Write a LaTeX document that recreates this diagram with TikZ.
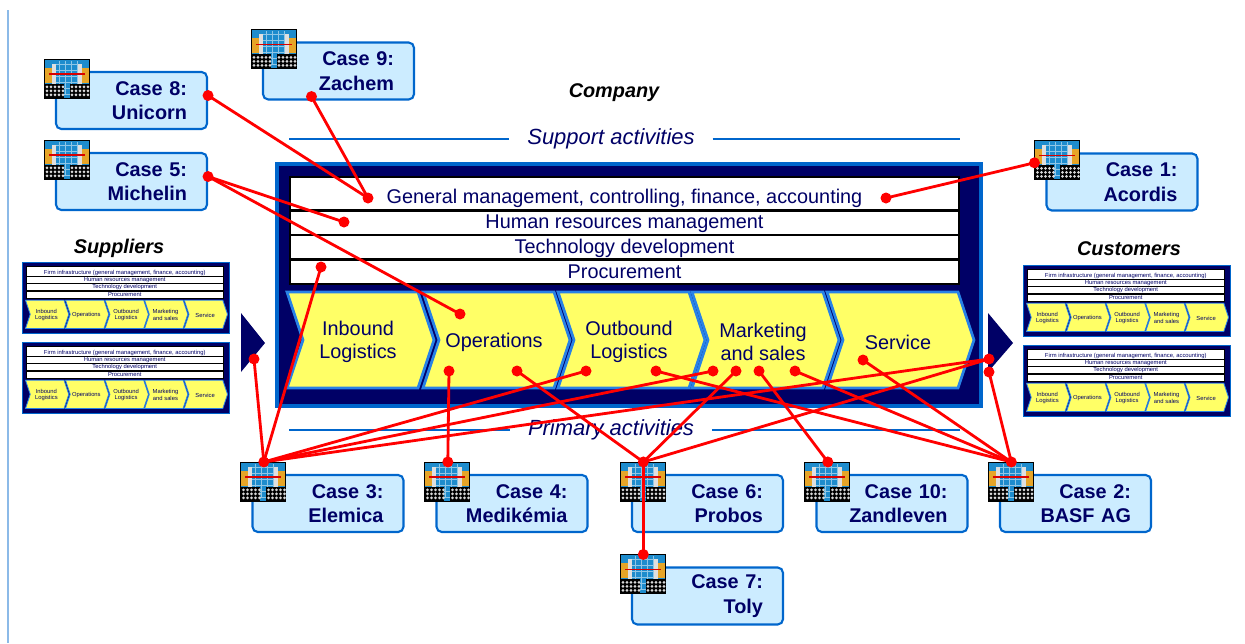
\documentclass[tikz,border=0pt]{standalone}
\usepackage{fontspec}
\setmainfont{Liberation Sans}
\usetikzlibrary{positioning,calc}

\definecolor{vcnavy}{RGB}{0,0,102}
\definecolor{vcblue}{RGB}{0,102,204}
\definecolor{chevblue}{RGB}{40,130,230}
\definecolor{chevyellow}{RGB}{255,255,102}
\definecolor{casefill}{RGB}{204,236,255}
\definecolor{iconblue}{RGB}{30,140,205}
\definecolor{iconorange}{RGB}{230,165,40}

\tikzset{%
	rowbox/.style   = {draw=black, fill=white},
	vctext/.style   = {text=vcnavy, inner sep=0, align=center,
		font=\fontsize{11.3}{13}\selectfont},
	chev/.style     = {draw=chevblue, fill=chevyellow, line join=miter},
	casebox/.style  = {draw=vcblue, fill=casefill, rounded corners=3pt,
		line width=1.2pt, text=vcnavy, align=right, text width=2.22cm,
		inner xsep=0.4cm, minimum height=1.14cm,
		font=\fontsize{11.3}{14}\selectfont\bfseries},
	icon/.style     = {inner sep=0, minimum width=0.92cm, minimum height=0.8cm},
	heading/.style  = {font=\fontsize{11.3}{14}\selectfont\bfseries\itshape},
	activity/.style = {text=vcnavy, inner xsep=10pt,
		font=\fontsize{12.5}{15}\selectfont\itshape},
	sepline/.style  = {draw=vcblue, line width=0.9pt},
	link/.style     = {draw=red, line width=1.6pt}
}

% value chain: #1 shift, #2 scale, #3 name prefix, #4 top support row
\newcommand{\valuechain}[4]{%
	\begin{scope}[shift={#1}, scale=#2, transform shape, name prefix=#3]
		\filldraw[draw=vcblue, fill=vcnavy, line width=#2*2.4pt] (2,2) rectangle (706,244);
		\foreach \ya/\yb in {15/48, 49/73, 73/97, 98/122}
			\draw[rowbox, line width=#2*1pt] (15,\ya) rectangle (684,\yb);
		\node[vctext, anchor=base] (gm) at (349.5,41) {#4};
		\node[vctext, anchor=base] (hr) at (349.5,66) {Human resources management};
		\node[vctext, anchor=base] (tech) at (349.5,91) {Technology development};
		\node[vctext, anchor=base] (proc) at (349.5,116) {Procurement};
		\foreach \x/\name/\txt in {12/inb/{Inbound\\Logistics}, 148/ops/Operations,
			283/outb/{Outbound\\Logistics}, 417/mkt/{Marketing\\and sales}, 552/serv/Service} {
			\draw[chev, line width=#2*1.6pt] (\x,130) -- ++(131,0) -- ++(16,48) -- ++(-16,48)
				-- ++(-131,0) -- ++(16,-48) -- cycle;
			\node[vctext] (\name) at (\x+71,180) {\txt};
		}
	\end{scope}}

% small picture in the corner of a case box
\newcommand{\caseicon}[1]{%
	\begin{scope}[shift={(#1.north west)}]
		\fill[black] (0,0) rectangle (46,40);
		\fill[iconblue] (1,1) rectangle (45,39);
		\foreach \gx in {15,21,...,33}
			\draw[white!50!iconblue, line width=0.4pt] (\gx,2) -- (\gx,36);
		\foreach \gy in {5,11,...,35}
			\draw[white!50!iconblue, line width=0.4pt] (11,\gy) -- (35,\gy);
		\fill[iconorange] (1,9) rectangle (10,24);
		\fill[iconorange] (36,9) rectangle (45,24);
		\fill[gray!25] (8,5) rectangle (12,26);
		\fill[gray!25] (34,5) rectangle (38,26);
		\draw[red!85!black, line width=0.7pt] (5,15) -- (41,15);
		\fill[black] (1,25) rectangle (20,39);
		\fill[black] (26,25) rectangle (45,39);
		\foreach \sx in {3,7,...,19} \foreach \sy in {28,32,36}
			\fill[gray!30] (\sx,\sy) circle (1.5);
		\foreach \sx in {28,32,...,44} \foreach \sy in {28,32,36}
			\fill[gray!30] (\sx,\sy) circle (1.5);
	\end{scope}}

\begin{document}
\begin{tikzpicture}[x=0.02cm, y=-0.02cm]
	\useasboundingbox (0,0) rectangle (1245,643);
	\draw[vcblue!45, line width=0.8pt] (8,10) -- (8,643);

	% headings
	\node[heading] (company) at (614,93) {Company};
	\node[heading] (suppliers) at (119,248) {Suppliers};
	\node[heading] (customers) at (1129,249) {Customers};
	\node[activity] (support) at (611,139) {Support activities};
	\node[activity] (primary) at (611,430) {Primary activities};
	\draw[sepline] (289,139) -- (support.west);
	\draw[sepline] (support.east) -- (960,139);
	\draw[sepline] (289,430) -- (primary.west);
	\draw[sepline] (primary.east) -- (960,430);

	% company with suppliers and customers
	\valuechain{(275,162)}{1}{}{General management, controlling, finance, accounting}
	\valuechain{(22,262)}{0.294}{sup1-}{Firm infrastructure (general management, finance, accounting)}
	\valuechain{(22,342)}{0.294}{sup2-}{Firm infrastructure (general management, finance, accounting)}
	\valuechain{(1023,265)}{0.294}{cus1-}{Firm infrastructure (general management, finance, accounting)}
	\valuechain{(1023,345)}{0.294}{cus2-}{Firm infrastructure (general management, finance, accounting)}
	\fill[vcnavy] (241,313) -- (265,343) -- (241,372) -- cycle;
	\fill[vcnavy] (988,313) -- (1013,343) -- (988,372) -- cycle;

	% cases
	\node[casebox] (c1) at (1122,182) {Case 1:\\Acordis};
	\node[casebox] (c2) at (1075.5,503.5) {Case 2:\\BASF AG};
	\node[casebox] (c3) at (328,503.5) {Case 3:\\Elemica};
	\node[casebox] (c4) at (512,503.5) {Case 4:\\Medikémia};
	\node[casebox] (c5) at (131.5,181.5) {Case 5:\\Michelin};
	\node[casebox] (c6) at (707.5,503.5) {Case 6:\\Probos};
	\node[casebox] (c7) at (707.5,596) {Case 7:\\Toly};
	\node[casebox] (c8) at (131.5,100.5) {Case 8:\\Unicorn};
	\node[casebox] (c9) at (338.5,71) {Case 9:\\Zachem};
	\node[casebox] (c10) at (892,503.5) {Case 10:\\Zandleven};
	\foreach \c in {1,...,10} {
		\node[icon, anchor=north west] (i\c) at ($(c\c.north west)+(-11,-12)$) {};
		\caseicon{i\c}
	}

	% where the cases touch the chain
	\coordinate (gmA) at (368,198);
	\coordinate (gmB) at (886,198);
	\coordinate (hrA) at (344,222);
	\coordinate (procA) at (321,267);
	\coordinate (opsA) at (460,314);
	\coordinate (opsB) at (449,371);
	\coordinate (opsC) at (517,371);
	\coordinate (outbA) at (586,371);
	\coordinate (outbB) at (656,371);
	\coordinate (mktA) at (713,371);
	\coordinate (mktB) at (736,371);
	\coordinate (mktC) at (759,371);
	\coordinate (mktD) at (795,371);
	\coordinate (servA) at (863,360);
	\coordinate (supA) at (254,359);
	\coordinate (cusA) at (989,359);
	\coordinate (cusB) at (989,372);
	\coordinate (d1) at ($(i1.west)+(0,2)$);
	\coordinate (d5) at ($(c5.east)+(0,-5)$);
	\coordinate (d8) at ($(c8.east)+(0,-5)$);
	\coordinate (d9) at ($(c9.south)+(-27,-4)$);

	\draw[link] (d8) -- (gmA);
	\draw[link] (d9) -- (gmA);
	\draw[link] (d1) -- (gmB);
	\draw[link] (d5) -- (hrA);
	\draw[link] (d5) -- (opsA);
	\draw[link] (i3.north) -- (procA);
	\draw[link] (i3.north) -- (supA);
	\draw[link] (i3.north) -- (outbA);
	\draw[link] (i3.north) -- (mktA);
	\draw[link] (i3.north) -- (cusA);
	\draw[link] (i4.north) -- (opsB);
	\draw[link] (i6.north) -- (opsC);
	\draw[link] (i6.north) -- (mktB);
	\draw[link] (i6.north) -- (cusA);
	\draw[link] (i7.north) -- (i6.north);
	\draw[link] (i10.north) -- (mktC);
	\draw[link] (i2.north) -- (outbB);
	\draw[link] (i2.north) -- (mktD);
	\draw[link] (i2.north) -- (servA);
	\draw[link] (i2.north) -- (cusB);
	\foreach \p in {gmA,gmB,hrA,procA,opsA,opsB,opsC,outbA,outbB,mktA,mktB,mktC,mktD,
		servA,supA,cusA,cusB,d1,d5,d8,d9,i2.north,i3.north,i4.north,i6.north,i7.north,i10.north}
		\fill[red] (\p) circle (5.5);
\end{tikzpicture}
\end{document}
